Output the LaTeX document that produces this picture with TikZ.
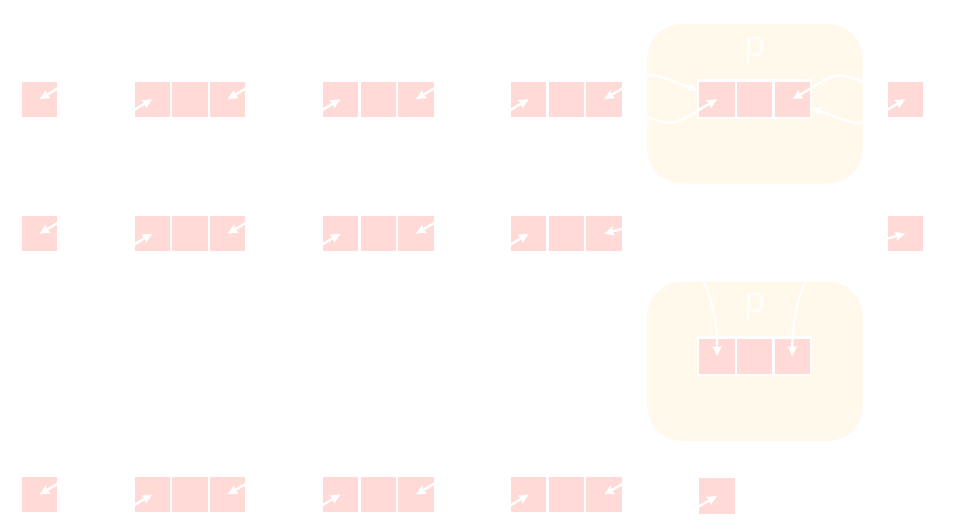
\documentclass[tikz,border=0pt]{standalone}
\usepackage{fontspec}
\setmainfont{Open Sans}
\usetikzlibrary{arrows.meta}
\definecolor{cellpink}{RGB}{255,218,214}
\definecolor{boxcream}{RGB}{255,248,235}
\begin{document}
\begin{tikzpicture}[x=1pt,y=1pt,
  cell/.style={draw=white,line width=2.3pt,fill=cellpink,minimum size=37.65pt,inner sep=0pt,outer sep=0pt},
  group/.style={fill=boxcream,rounded corners=35pt},
  ptr/.style={draw=white,line width=2.4pt,-{Stealth[length=10pt,width=9pt,inset=1.5pt]}},
  ptrb/.style={draw=white,line width=2.4pt,{Stealth[length=10pt,width=9pt,inset=1.5pt]}-{Stealth[length=10pt,width=9pt,inset=1.5pt]}},
  nb/.style={bend right=25,looseness=1.6},
  plabel/.style={text=white,font=\fontsize{35.5}{40}\selectfont,anchor=base,inner sep=0pt}]
\useasboundingbox (0,0) rectangle (959,532);
\fill[white] (0,0) rectangle (959,532);
% yellow groups
\fill[group] (647.3,348.7) rectangle (862.7,508);
\fill[group] (647.3,91) rectangle (862.7,250.3);
% standard rows
\foreach \r/\y in {1/432.8,2/298.3,4/37.5}{
  \node[cell] (s\r) at (39.5,\y) {};
  \foreach \n/\x in {a/152.3,b/340.55,c/528.8}{
    \node[cell] (\n\r1) at (\x,\y) {};
    \node[cell] (\n\r2) at ({\x+37.65},\y) {};
    \node[cell] (\n\r3) at ({\x+75.3},\y) {};
  }
}
% p nodes
\node[cell] (p11) at (717.05,432.8) {};
\node[cell] (p12) at (754.7,432.8) {};
\node[cell] (p13) at (792.35,432.8) {};
\node[cell] (p31) at (717.05,175.7) {};
\node[cell] (p32) at (754.7,175.7) {};
\node[cell] (p33) at (792.35,175.7) {};
% end nodes
\node[cell] (e1) at (905.3,432.8) {};
\node[cell] (e2) at (905.3,298.3) {};
\node[cell] (e4) at (717.05,36) {};
% labels
\node[plabel] (pl1) at (754.7,475) {p};
\node[plabel] (pl3) at (754.7,219) {p};
% standard links
\foreach \r in {1,2,4}{
  \draw[ptr] (s\r) to[nb] (a\r1.center);
  \draw[ptr] (a\r1) to[nb] (s\r.center);
  \draw[ptr] (a\r3) to[nb] (b\r1.center);
  \draw[ptr] (b\r1) to[nb] (a\r3.center);
  \draw[ptr] (b\r3) to[nb] (c\r1.center);
  \draw[ptr] (c\r1) to[nb] (b\r3.center);
}
% row 1 with p
\draw[ptr] (c13) to[nb] (p11.center);
\draw[ptrb] (p11) to[nb] (c13.center);
\draw[ptr] (e1) to[nb] (p13.center);
\draw[ptrb] (p13) to[nb] (e1.center);
% row 2
\draw[ptr] (c23) to[bend right=14] (e2.center);
\draw[ptr] (e2) to[bend right=14] (c23.center);
\draw[ptr] (c23) to[out=0,in=90,out looseness=0.66,in looseness=1.65] (p31.center);
\draw[ptr] (e2) to[out=180,in=90,out looseness=0.66,in looseness=1.65] (p33.center);
% row 4
\draw[ptr] (c43) to[nb] (e4.center);
\draw[ptr] (e4) to[nb] (c43.center);
\end{tikzpicture}
\end{document}
